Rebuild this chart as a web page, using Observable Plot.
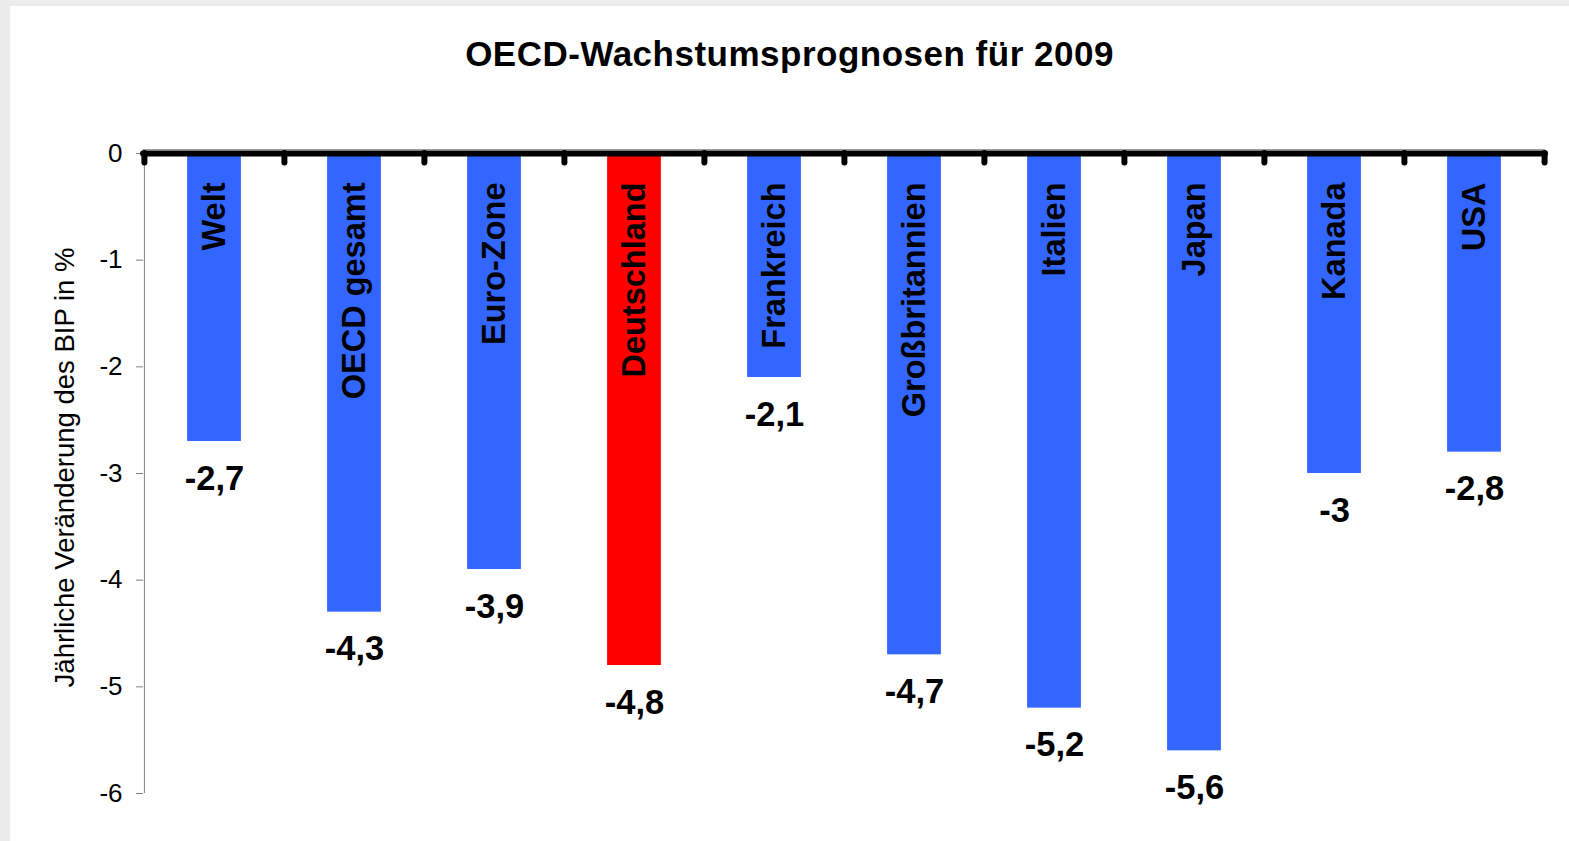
<!DOCTYPE html>
<html lang="de">
<head>
<meta charset="utf-8">
<script src="https://cdn.jsdelivr.net/npm/d3@7"></script>
<script src="https://cdn.jsdelivr.net/npm/@observablehq/plot@0.6"></script>
<style>
  html, body { margin: 0; padding: 0; }
  body { width: 1569px; height: 841px; background: #ececec; position: relative; overflow: hidden;
         font-family: "Liberation Sans", Arial, sans-serif; }
  #panel { position: absolute; left: 10px; top: 6px; width: 1559px; height: 835px; background: #ffffff; }
  #title { position: absolute; left: 0; top: 28px; width: 1559px; text-align: center;
           font-size: 35px; font-weight: bold; line-height: 40px; color: #000; letter-spacing: 0.5px; }
  #chart { position: absolute; left: 0; top: 94px; }
</style>
</head>
<body>
<div id="panel">
  <div id="title">OECD-Wachstumsprognosen für 2009</div>
  <div id="chart"></div>
</div>
<script>
const categories = ["Welt", "OECD gesamt", "Euro-Zone", "Deutschland", "Frankreich",
                    "Großbritannien", "Italien", "Japan", "Kanada", "USA"];
const values = [-2.7, -4.3, -3.9, -4.8, -2.1, -4.7, -5.2, -5.6, -3.0, -2.8];
const highlighted = ["Deutschland"];
const yTicks = [0, -1, -2, -3, -4, -5, -6];
const yLabel = "Jährliche Veränderung des BIP in %";
const blue = "#3366FF";
const red = "#FF0000";

const data = categories.map((c, i) => ({cat: c, value: values[i]}));
const fmt = v => String(v).replace(".", ",");

const W = 1559, H = 741, mL = 133, mR = 24, mT = 53, mB = 48;
const bw = (W - mL - mR) / categories.length;
const barW = 54;
const inset = (bw - barW) / 2;

const chart = Plot.plot({
  width: W, height: H,
  marginLeft: mL, marginRight: mR, marginTop: mT, marginBottom: mB,
  style: {fontFamily: "'Liberation Sans', Arial, sans-serif", fontSize: "25px", color: "#000", background: "transparent", overflow: "visible"},
  x: {type: "band", domain: categories, padding: 0, axis: null},
  y: {domain: [-6, 0], axis: null},
  color: {type: "identity"},
  marks: [
    Plot.barY(data, {x: "cat", y: "value", insetLeft: inset, insetRight: inset,
      fill: d => highlighted.includes(d.cat) ? red : blue}),
    Plot.axisY({ticks: yTicks, tickFormat: d => String(d), tickSize: 7, tickPadding: 14,
      stroke: "#808080", fill: "#000", label: null, fontSize: 26}),
    Plot.ruleX([categories[0]], {y1: -6, y2: 0, dx: -bw / 2, stroke: "#808080", strokeWidth: 1}),
    Plot.ruleY([0], {stroke: "#9a9a9a", strokeWidth: 1, dy: -4}),
    Plot.ruleX(categories, {x: d => d, y1: 0, y2: -0.09, dx: -bw / 2, stroke: "#000", strokeWidth: 6, strokeLinecap: "round"}),
    Plot.ruleX([categories[categories.length - 1]], {x: d => d, y1: 0, y2: -0.09, dx: bw / 2, stroke: "#000", strokeWidth: 6, strokeLinecap: "round"}),
    Plot.ruleY([0], {stroke: "#000", strokeWidth: 6, strokeLinecap: "round"}),
    Plot.text(data, {x: "cat", y: 0, text: "cat", rotate: -90, textAnchor: "end", lineAnchor: "middle",
      dy: 29, fontSize: 32.5, fontWeight: "bold", fill: "#000"}),
    Plot.text(data, {x: "cat", y: "value", text: d => fmt(d.value), lineAnchor: "middle",
      dy: 37, fontSize: 34.5, fontWeight: "bold", fill: "#000"}),
    Plot.text([yLabel], {text: d => d, frameAnchor: "left", rotate: -90, textAnchor: "middle", lineAnchor: "middle",
      dx: -78, dy: -6, fontSize: 27.5, fill: "#000"})
  ]
});
document.getElementById("chart").appendChild(chart);
</script>
</body>
</html>
